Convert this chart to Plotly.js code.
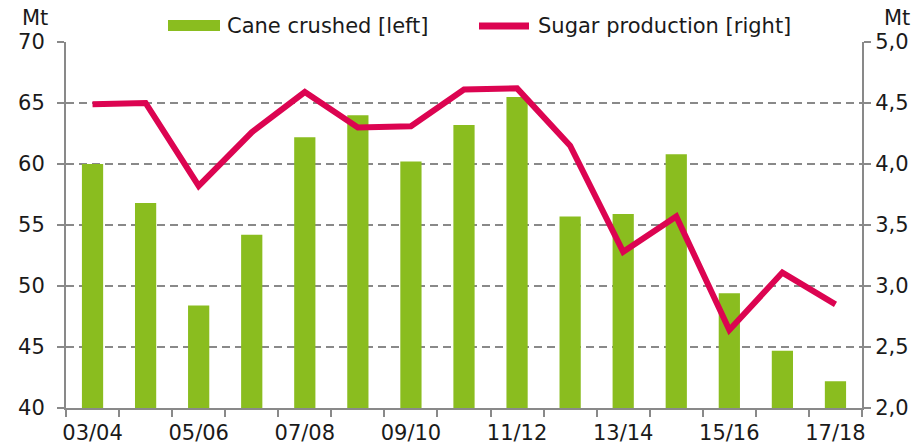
<!DOCTYPE html>
<html><head><meta charset="utf-8">
<script src="https://cdn.plot.ly/plotly-3.0.1.min.js"></script>
<style>html,body{margin:0;padding:0;background:#fff}#chart{width:921px;height:448px}</style>
</head><body><div id="chart"></div>
<script>
const seasons = ["03/04","04/05","05/06","06/07","07/08","08/09","09/10","10/11","11/12","12/13","13/14","14/15","15/16","16/17","17/18"];
const tickLabels = ["03/04","","05/06","","07/08","","09/10","","11/12","","13/14","","15/16","","17/18"];
const caneCrushed = [60.0,56.8,48.4,54.2,62.2,64.0,60.2,63.2,65.5,55.7,55.9,60.8,49.4,44.7,42.2];
const sugarProduction = [4.49,4.50,3.82,4.26,4.59,4.30,4.31,4.61,4.62,4.15,3.28,3.57,2.64,3.11,2.85];

const GREEN = '#8aBD1F', RED = '#DC0451', GRAY = '#898989';
const FONT = {family:'DejaVu Sans, Verdana, sans-serif', size:21, color:'#1a1a1a'};

const traces = [
  {type:'bar', x:seasons, y:caneCrushed, width:0.4, marker:{color:GREEN}, name:'Cane crushed [left]', hoverinfo:'none'},
  {type:'scatter', mode:'lines', x:seasons, y:sugarProduction, yaxis:'y2', line:{color:RED, width:6}, name:'Sugar production [right]', hoverinfo:'none'}
];

const layout = {
  width:921, height:448,
  margin:{l:66, r:59, t:42, b:40},
  paper_bgcolor:'#fff', plot_bgcolor:'#fff',
  separators:', ',
  showlegend:false,
  font:FONT,
  xaxis:{type:'category', tickvals:seasons, ticktext:tickLabels, tickson:'boundaries', tickangle:0,
    ticks:'outside', ticklen:7, tickwidth:2, tickcolor:GRAY, showline:true, linecolor:GRAY, linewidth:2,
    showgrid:false, range:[-0.5,14.5], tickfont:FONT, fixedrange:true, ticklabelstandoff:5},
  yaxis:{range:[40,70], dtick:5, ticks:'outside', ticklen:7, tickwidth:2, tickcolor:GRAY,
    showline:true, linecolor:GRAY, linewidth:2, showgrid:true, gridcolor:GRAY, gridwidth:2,
    griddash:'8px,5px', zeroline:false, tickfont:FONT, ticklabelstandoff:8},
  yaxis2:{range:[2,5], dtick:0.5, tickformat:'.1f', overlaying:'y', side:'right', ticks:'outside', ticklen:7,
    tickwidth:2, tickcolor:GRAY, showline:true, linecolor:GRAY, linewidth:2, showgrid:false, zeroline:false, tickfont:FONT},
  shapes:[
    {type:'rect', xref:'paper', yref:'paper', x0:(120-66)/796, x1:(837-66)/796, y0:1-3/366, y1:1+36/366, fillcolor:'#fff', line:{width:0}, layer:'above'},
    {type:'rect', xref:'paper', yref:'paper', x0:(168-66)/796, x1:(220-66)/796, y0:1+(42-31)/366, y1:1+(42-20)/366, fillcolor:GREEN, line:{width:0}, layer:'above'},
    {type:'line', xref:'paper', yref:'paper', x0:(479-66)/796, x1:(529-66)/796, y0:1+(42-26)/366, y1:1+(42-26)/366, line:{color:RED, width:7}, layer:'above'}
  ],
  annotations:[
    {text:'Cane crushed [left]', xref:'paper', yref:'paper', x:(225-66)/796, y:1+(42-26)/366, xanchor:'left', yanchor:'middle', showarrow:false, font:FONT},
    {text:'Sugar production [right]', xref:'paper', yref:'paper', x:(536-66)/796, y:1+(42-26)/366, xanchor:'left', yanchor:'middle', showarrow:false, font:FONT},
    {text:'Mt', xref:'paper', yref:'paper', x:(35-66)/796, y:1+(42-18)/366, xanchor:'center', yanchor:'middle', showarrow:false, font:FONT},
    {text:'Mt', xref:'paper', yref:'paper', x:(897-66)/796, y:1+(42-18)/366, xanchor:'center', yanchor:'middle', showarrow:false, font:FONT}
  ]
};
Plotly.newPlot('chart', traces, layout, {staticPlot:true});
</script></body></html>
